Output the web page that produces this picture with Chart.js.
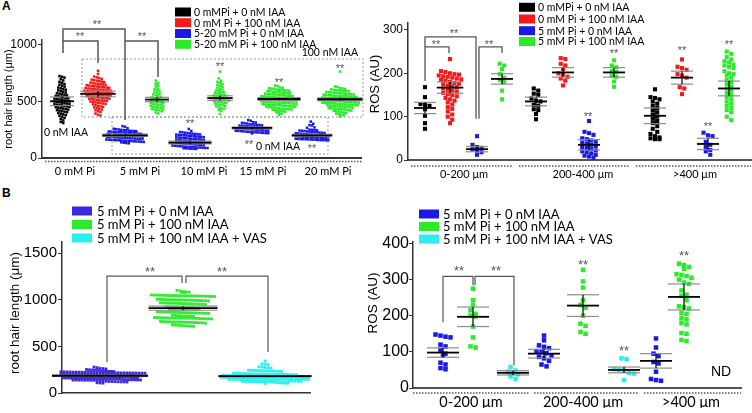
<!DOCTYPE html>
<html>
<head>
<meta charset="utf-8">
<script src="https://cdn.jsdelivr.net/npm/chart.js@4.4.1/dist/chart.umd.min.js"></script>
<style>
  body { margin: 0; background: #fff; width: 752px; height: 413px; overflow: hidden; position: relative; }
  canvas { position: absolute; left: 0; top: 0; }
  .tag { position: absolute; font: bold 12px "Liberation Sans", Arial, sans-serif; color: #000; }
</style>
</head>
<body>
<div class="tag" style="left:2px;top:-1px">A</div>
<div class="tag" style="left:2px;top:186px">B</div>
<canvas id="a1" width="752" height="413"></canvas>
<canvas id="a2" width="752" height="413"></canvas>
<canvas id="b1" width="752" height="413"></canvas>
<canvas id="b2" width="752" height="413"></canvas>
<script>
// ---------- data: panel A, root hair length ----------
const a1Labels = ['0 mM Pi', '5 mM Pi', '10 mM Pi', '15 mM Pi', '20 mM Pi'];
const a1Ticks = [0, 500, 1000];
const a1Legend = ['0 mMPi + 0 nM IAA', '0 mM Pi + 100 nM IAA', '5-20 mM Pi + 0 nM IAA', '5-20 mM Pi + 100 nM IAA'];
const a1Black0 = [722,716,709, 695,684, 671,663,652, 646,638,629, 621,614,608,602, 596,589,583,577, 571,566,561,556,552, 548,544,540,535,531,527, 523,520,516,512,508,505,501, 498,495,491,487,484,480,477, 473,470,466,462,459,455,452, 448,444,440,436,431,427, 422,418,413,408,403, 397,391,384,378, 371,362,354, 343,331,318,308];
const a1Red0 = [768, 741, 718,711,704, 697,691,686,682,677, 673,669,664,660,656,653,651, 648,645,641,638,635,632,630,628,626, 623,621,619,616,613,611,608,606,604,603,601, 598,596,594,592,590,588,586,584,582,580,578,577, 574,572,570,568,566,564,562,560,558,556,554,552, 549,547,545,543,541,538,536,534,531,529,527, 523,521,518,515,512,509,506,504,502, 498,494,490,487,484,480,477, 472,466,460,455,451, 446,440,433,427, 420,412,405, 392,381,372];
const a1Blue5 = [281,276, 262,258,254,251,248,246,244,241, 239,238,236,234,233,231,229,228,227,225,223,222,221,219, 216,214,212,211,210,208,206,205,204,202,200,199,198,196,194,193,192, 189,187,186,185,183,181,180,179,177,175,174,173,171,169,168,167, 163,162,161,159,157,156,155,153,151,150,149,147,146,145, 143,141,138,135,132,130];
const a1Green5 = [682, 662,655, 638,630, 613,606,600, 590,583,576, 566,560,553,547, 538,533,528,522,517, 511,507,503,498,494,490, 486,482,478,473,469,465, 461,457,453,449,445,441, 436,432,428,424,419, 412,402,392];
const a1Blue10 = [256, 238, 229,226,223,220,217, 214,212,210,208,206,204,202,200, 198,196,194,192,190,188,186,184,182,180, 178,176,174,172,170,168,166,164,162,160, 158,156,154,152,150,148,146,144,142,140, 138,136,134,132,130,128,126,124,122,120, 118,116,114,112,110,108,106,104,102,100, 98,97,96,94,93,92,90,89,88,86,85,84,82,81,80];
const a1Green10 = [762, 702, 681,672, 658,652,646, 633,627,621, 609,604,598,593, 584,580,575,570,566, 559,555,551,547,543,539, 534,531,528,525,522,519,516, 512,509,506,503,500,497, 492,488,484,480,476, 470,465,460,455, 446,440,434, 424,416, 388];
const a1Blue15 = [334,328, 316,313,310,307,304, 298,296,294,292,290,288,286,284,282, 279,277,275,273,271,269,267,265,263,262,261,260, 258,256,254,252,250,248,246,244,242,241,240,239, 237,235,233,231,229,227,226,225,224, 222,220,219,217];
const a1Green15 = [638,634, 621,618,615,612,609, 603,601,599,597,595,593,591,589, 584,582,580,578,576,574,572,570,568,566, 563,561,559,557,555,553,551,549,547,546,545,544, 542,540,538,536,534,532,530,529,528,527,526,525,524, 522,520,518,516,514,512,510,509,508,507,506,505,504, 502,500,498,496,494,492,490,489,488,487,486,485,484, 482,480,478,476,474,472,470,468,467,466,465,464, 462,460,458,456,454,452,450,448,446,444, 440,438,436,434,432,430,428,426, 421,418,415,412,409, 402,396,390, 378];
const a1Blue20 = [321, 302, 290,286, 270,266, 250,248,246,244,242,240,238, 234,232,230,228,226,224,222,220,218,216,214, 212,210,208,206,204,203,202,201,200,198,196,194, 192,190,188,186,184,183,182,181,180,178,176,174, 172,170,168,167,166,165,164,163,162,161, 159,158,157,156,155];
const a1Green20 = [762, 631,627, 615,612,609,606, 600,598,596,594,592,590,588, 582,580,578,576,574,572,570,568,566,564, 562,560,558,556,554,552,550,548,547,546,545,544, 542,540,538,536,534,532,530,529,528,527,526,525,524, 522,520,518,516,514,512,510,509,508,507,506,505,504, 502,500,498,496,494,492,490,489,488,487,486,485,484, 482,480,478,476,474,472,470,468,467,466,465,464, 462,460,458,456,454,452,450,448,446,444, 440,438,436,434,432,430,428,426, 421,418,415,412,409,406, 400,396,392,388, 382,378, 366];
const a1Means = [500, 565, 200, 515, 136, 528, 265, 520, 200, 518];
const a1Errs = [38, 25, 10, 20, 12, 20, 8, 12, 8, 12];

// ---------- data: panel A, ROS ----------
const a2Labels = ['0-200 \u03bcm', '200-400 \u03bcm', '>400 \u03bcm'];
const a2Ticks = [0, 100, 200, 300];
const a2Legend = ['0 mMPi + 0 nM IAA', '0 mM Pi + 100 nM IAA', '5 mM Pi + 0 nM IAA', '5 mM Pi + 100 nM IAA'];
const a2Black1 = [168,145,129,127,125,117,102,85,72];
const a2Red1 = [233,205,203,200,198,197,195,193,192,190,188,186,185,183,180,178,176,175,172,170,168,165,162,160,158,155,152,150,147,143,140,137,133,128,122,118,112,105,100,93,85];
const a2Blue1 = [55,35,30,28,25,22,18,12];
const a2Green1 = [222,218,210,198,190,185,180,160,140];
const a2Black2 = [165,160,153,150,142,137,135,127,125,117,115,106,94];
const a2Red2 = [235,233,222,218,210,200,198,192,188,183,172];
const a2Blue2 = [90,65,62,58,50,48,45,42,40,38,35,32,30,28,25,22,20,18,15,12,10,8,5];
const a2Green2 = [230,218,214,205,203,195,192,181,169];
const a2Black3 = [163,145,143,140,135,130,125,120,115,110,105,100,95,90,85,78,72,65,60,55,52,50,48,48];
const a2Red3 = [232,215,212,208,198,195,190,168,165,152];
const a2Blue3 = [63,57,55,42,35,30,23,20,12];
const a2Green3 = [250,245,238,232,228,225,220,218,215,212,205,200,198,195,190,185,180,175,170,165,160,155,150,145,140,135,130,125,120,115,110,100,92];
const a2Means = [120, 167, 25, 187, 135, 202, 35, 202, 102, 190, 37, 165];
const a2Errs = [13, 13, 6, 12, 10, 11, 12, 11, 18, 15, 13, 17];

// ---------- data: panel B, root hair length ----------
const b1Ticks = [0, 500, 1000, 1500];
const b1Legend = ['5 mM Pi + 0 nM IAA', '5 mM Pi + 100 nM IAA', '5 mM Pi + 100 nM IAA + VAS'];
const b1Blue = [278,272, 265,262,258, 252,249,247,245,243, 236,235,233,232,231,230,229,228,227,226,
  225,224,224,223,223,222,222,221,221,220,220,219,219,218,218,217,217,216,216,215,215,214,214,213,213,212,
  205,204,204,203,203,202,202,201,201,200,200,199,199,198,198,197,197,196,196,195,195,194,194,193,193,192,
  185,184,184,183,183,182,182,181,181,180,180,179,179,178,178,177,177,176,176,175,175,174,174,173,173,172,
  163,162,162,161,161,160,160,159,159,158,158,157,157,156,156,155,155,154,154,153,153,152,152,151,
  145,144,143,142,141,140,140,139,139,138,138,137,137,136,136,135,134,133,
  126,124,123,122,121,120,119,118, 110,108,106];
const b1Green = [1102,1096, 1088,1085,1083,1080,1078,
  1052,1051,1050,1049,1048,1047,1046,1045,1045,1044,1044,1043,1043,1042,1041,1040,1040,1039,1038,1037,1036,1035,
  1005,1004,1003,1002,1001,1000,1000,999,998,997,996,995,994,993,992,991,990,988,
  968,966,965,964,963,962,961,960,959,958,957,956,955,954,952,950,
  925,923,921,920,918,917,916,915,914,912,
  905,904,903,902,901,900,899,898,897,896,895,894,
  872,870,869,868,867,866,865,864,863,862,861,860,859,858,857,856,855,853,
  835,832,830,828,826,825,823,821,
  810,809,808,807,806,805,805,804,804,803,803,802,802,801,800,799,798,797,796,795,
  768,766,765,764,763,762,761,760,759,758,757,756,755,754,752,750,
  730,728,726,724,722,720,718,715];
const b1Cyan = [343, 312,308,305, 282,277,274,270,268,
  245,243,242,241,240,239,238,237,236,235,234,232,
  212,211,210,209,208,207,206,205,205,204,204,203,203,202,202,201,200,199,198,197,196,195,
  190,189,189,188,188,187,187,186,186,185,185,184,184,183,183,182,182,181,181,180,180,179,179,178,178,177,
  170,169,169,168,168,167,167,166,166,165,165,164,164,163,163,162,162,161,161,160,160,159,159,158,158,157,
  150,149,149,148,148,147,147,146,146,145,145,144,144,143,143,142,142,141,141,140,140,139,139,138,138,137,
  130,129,128,127,126,125,124,124,123,122,121,120,119,118,118,117,116,115,
  110,108,106,104,102];
const b1Means = [185, 910, 180];
const b1Errs = [8, 22, 8];

// ---------- data: panel B, ROS ----------
const b2Labels = ['0-200 \u03bcm', '200-400 \u03bcm', '>400 \u03bcm'];
const b2Ticks = [0, 100, 200, 300, 400];
const b2Blue1 = [148,145,142,140,120,115,105,95,90,70,65,55,52];
const b2Green1 = [275,243,230,215,205,200,198,170,140,115,112];
const b2Cyan1 = [58,48,45,42,38,32,25];
const b2Blue2 = [145,132,118,114,110,102,100,96,90,86,82,75,65,60];
const b2Green2 = [327,295,278,243,230,222,200,178,172,155,150];
const b2Cyan2 = [82,80,52,50,48,42,40,22];
const b2Blue3 = [137,112,95,88,72,68,45,25,22,20];
const b2Green3 = [344,340,335,330,315,313,310,305,300,292,288,270,258,255,243,226,224,220,208,205,193,190,180,176,152,150,133,130];
const b2Means = [98, 197, 42, 95, 228, 50, 75, 252];
const b2Errs = [13, 27, 6, 12, 30, 8, 20, 36];

const BLACK = '#000000', RED = '#f41a1a', BLUE = '#1a1ae6', GREEN = '#2aea2a', CYAN = '#2aeeee', VIOLET = '#3a28e0';
const SANS = "'Liberation Sans', Arial, sans-serif";
const MYR = "Lato, 'Open Sans', sans-serif";

Chart.defaults.font.family = SANS;

function line(ctx, x1, y1, x2, y2) {
  ctx.beginPath(); ctx.moveTo(x1, y1); ctx.lineTo(x2, y2); ctx.stroke();
}

// dot-plot layout: values closer than rowH pixels share a row and are spread sideways
function swarm(chart, vals, cx, rowH, dx) {
  const xs = chart.scales.x, ys = chart.scales.y;
  const rows = [];
  let cur = null, start = 0;
  vals.slice().sort((a, b) => b - a).forEach(v => {
    const py = ys.getPixelForValue(v);
    if (!cur || py - start >= rowH) { cur = []; rows.push(cur); start = py; }
    cur.push(v);
  });
  const c = xs.getPixelForValue(cx), pts = [];
  let half = 0;
  rows.forEach(row => row.forEach((v, i) => {
    const off = (i - (row.length - 1) / 2) * dx;
    half = Math.max(half, Math.abs(off));
    pts.push({ x: xs.getValueForPixel(c + off), y: v });
  }));
  return { pts, half };
}

function deco(p) {
  return {
    id: 'deco',
    afterDatasetsDraw(chart) {
      const { ctx, scales: { x, y } } = chart;
      ctx.save();
      chart.data.datasets.forEach((d, i) => {
        const cx = x.getPixelForValue(d.cx);
        const hw = Math.max(p.barMin, d.half + p.barExtra);
        const m = y.getPixelForValue(p.means[i]);
        const lo = y.getPixelForValue(p.means[i] - p.errs[i]);
        const hi = y.getPixelForValue(p.means[i] + p.errs[i]);
        ctx.strokeStyle = '#8c8c8c'; ctx.lineWidth = 1.2;
        line(ctx, cx - hw, lo, cx + hw, lo);
        line(ctx, cx - hw, hi, cx + hw, hi);
        ctx.strokeStyle = '#000'; ctx.lineWidth = 1.2;
        line(ctx, cx, lo, cx, hi);
        ctx.lineWidth = 1.8;
        line(ctx, cx - hw, m, cx + hw, m);
      });
      ctx.restore();
    },
    afterDraw(chart) {
      const { ctx, scales: { x, y } } = chart;
      ctx.save();
      // dotted lines under the x axis
      ctx.strokeStyle = '#555'; ctx.lineWidth = 1.5; ctx.setLineDash([1.5, 1.5]);
      (p.dots || []).forEach(s => line(ctx, x.getPixelForValue(s[0]), p.dotY, x.getPixelForValue(s[1]), p.dotY));
      // dashed group boxes
      ctx.strokeStyle = '#9a9a9a'; ctx.lineWidth = 1; ctx.setLineDash([2, 2]);
      (p.boxes || []).forEach(b => {
        const x1 = x.getPixelForValue(b[0]), x2 = x.getPixelForValue(b[1]);
        const y1 = y.getPixelForValue(b[2]), y2 = y.getPixelForValue(b[3]);
        ctx.strokeRect(x1, y1, x2 - x1, y2 - y1);
      });
      ctx.setLineDash([]);
      // significance brackets
      ctx.strokeStyle = '#555'; ctx.lineWidth = p.brW || 1.3;
      (p.brackets || []).forEach(path => {
        ctx.beginPath();
        path.forEach((pt, k) => {
          const px = x.getPixelForValue(pt[0]), py = y.getPixelForValue(pt[1]);
          if (k) ctx.lineTo(px, py); else ctx.moveTo(px, py);
        });
        ctx.stroke();
      });
      ctx.textBaseline = 'middle';
      ctx.fillStyle = '#555'; ctx.textAlign = 'center'; ctx.font = p.starFont;
      (p.stars || []).forEach(s => ctx.fillText('**', x.getPixelForValue(s[0]), y.getPixelForValue(s[1]) + 2));
      ctx.fillStyle = '#000';
      (p.texts || []).forEach(t => {
        ctx.font = t[4]; ctx.textAlign = t[3];
        ctx.fillText(t[2], x.getPixelForValue(t[0]), y.getPixelForValue(t[1]));
      });
      // y axis title
      ctx.save();
      ctx.translate(p.title.x, p.title.y); ctx.rotate(-Math.PI / 2);
      ctx.textAlign = 'center'; ctx.font = p.title.font;
      ctx.fillText(p.title.text, 0, 0);
      ctx.restore();
      // legend
      const L = p.legend;
      ctx.textAlign = 'left'; ctx.font = L.font;
      L.items.forEach((name, k) => {
        ctx.fillStyle = L.colors[k];
        ctx.fillRect(L.x, L.ys[k] - L.h / 2, L.w, L.h);
        ctx.fillStyle = '#000';
        ctx.fillText(name, L.tx, L.ys[k] + 0.5);
      });
      ctx.restore();
    }
  };
}

function panel(id, p) {
  const datasets = p.series.map((vals, i) => ({
    data: [], raw: vals, cx: p.pos[i], half: 0,
    backgroundColor: p.colors[i], borderWidth: 0, clip: false,
    pointStyle: 'rect', pointRadius: p.r, pointHoverRadius: p.r
  }));
  const xScale = {
    type: 'linear', min: 0, max: p.xmax,
    afterFit: s => { s.height = p.xh; },
    ticks: { display: false },
    grid: { display: true, drawOnChartArea: false, drawTicks: false },
    border: { color: p.xColor, width: p.xbw }
  };
  if (p.xlab) {
    xScale.afterBuildTicks = s => { s.ticks = p.xpos.map(v => ({ value: v })); };
    xScale.ticks = { display: true, autoSkip: false, maxRotation: 0, padding: p.xpad, color: '#000',
                     font: p.xfont, callback: (v, i) => p.xlab[i] };
  }
  const chart = new Chart(document.getElementById(id), {
    type: 'scatter',
    data: { datasets },
    options: {
      responsive: false, animation: false, events: [],
      layout: { padding: p.pad, autoPadding: false },
      plugins: { legend: { display: false }, tooltip: { enabled: false } },
      scales: {
        x: xScale,
        y: {
          min: 0, max: p.ymax,
          afterFit: s => { s.width = p.yw; },
          afterBuildTicks: s => { s.ticks = p.yticks.map(v => ({ value: v })); },
          ticks: { color: '#000', font: p.yfont, padding: p.ypad, autoSkip: false, callback: v => String(v) },
          grid: { drawOnChartArea: false, drawTicks: true, tickLength: 4, color: '#333' },
          border: { color: '#333', width: p.ybw }
        }
      }
    },
    plugins: [deco(p)]
  });
  chart.data.datasets.forEach(d => {
    const s = swarm(chart, d.raw, d.cx, p.rowH, p.dx);
    d.data = s.pts; d.half = s.half;
  });
  chart.update();
  return chart;
}

// A: root hair length
panel('a1', {
  pad: { left: 0, top: 40, right: 391, bottom: 225 }, yw: 42, xh: 30,
  xmax: 319, ymax: 1040, yticks: a1Ticks,
  series: [a1Black0, a1Red0, a1Blue5, a1Green5, a1Blue10, a1Green10, a1Blue15, a1Green15, a1Blue20, a1Green20],
  pos: [20, 56, 83, 115, 148, 178, 210, 237, 270, 298],
  colors: [BLACK, RED, BLUE, GREEN, BLUE, GREEN, BLUE, GREEN, BLUE, GREEN],
  means: a1Means, errs: a1Errs, barMin: 12, barExtra: 4,
  r: 1.8, rowH: 2.6, dx: 2.5,
  xlab: a1Labels, xpos: [33, 98, 162, 221, 286], xpad: 7, xfont: { family: MYR, size: 11 },
  xColor: '#333', xbw: 2, ybw: 1.5, ypad: 1,
  yfont: { size: 12 },
  title: { text: 'root hair length (\u03bcm)', x: 9, y: 99, font: '11px ' + SANS },
  dotY: 161.5, dots: [[3, 320]],
  boxes: [[40, 321, 872, 361], [70, 286, 361, 35]],
  brackets: [[[21, 1031], [21, 1137], [83, 1137], [83, 335]],
             [[21, 925], [21, 1031], [56, 1031], [56, 837]],
             [[83, 1031], [116, 1031], [116, 714]]],
  brW: 1.5,
  starFont: '11px ' + SANS,
  stars: [[55, 1190], [38, 1084], [100, 1084], [178, 819], [237, 678], [298, 802], [148, 317], [207, 132], [270, 97]],
  texts: [[316, 925, '100 nM IAA', 'right', '10.5px ' + MYR], [236, 97, '0 nM IAA', 'center', '10.5px ' + MYR],
          [24, 220, '0 nM IAA', 'center', '10.5px ' + MYR]],
  legend: { x: 175, w: 16, h: 9, ys: [12, 22.7, 33.5, 44.3], tx: 194, font: '10.5px ' + MYR,
            items: a1Legend, colors: [BLACK, RED, BLUE, GREEN] }
});

// A: ROS
panel('a2', {
  pad: { left: 366, top: 23, right: 1, bottom: 223 }, yw: 42, xh: 30,
  xmax: 343, ymax: 316, yticks: a2Ticks,
  series: [a2Black1, a2Red1, a2Blue1, a2Green1, a2Black2, a2Red2, a2Blue2, a2Green2, a2Black3, a2Red3, a2Blue3, a2Green3],
  pos: [17, 42, 69, 94, 128, 155, 181, 206, 247, 274, 300, 321],
  colors: [BLACK, RED, BLUE, GREEN, BLACK, RED, BLUE, GREEN, BLACK, RED, BLUE, GREEN],
  means: a2Means, errs: a2Errs, barMin: 11, barExtra: 2,
  r: 2.9, rowH: 4.2, dx: 4.5,
  xlab: a2Labels, xpos: [56, 175, 287], xpad: 8, xfont: { family: MYR, size: 11 },
  xColor: '#555', xbw: 2, ybw: 1.5, ypad: 1,
  yfont: { size: 12 },
  title: { text: 'ROS (AU)', x: 375, y: 84, font: '13px ' + SANS },
  dotY: 166, dots: [[3, 105], [111, 221], [228, 343]],
  brackets: [[[17, 261], [17, 284], [68, 284], [68, 95]],
             [[17, 182], [17, 261], [41, 261], [41, 247]],
             [[71, 95], [71, 261], [94, 261], [94, 247]]],
  starFont: '11px ' + SANS,
  stars: [[46, 296], [28, 270], [81, 270], [206, 249], [180, 104], [274, 256], [321, 270], [300, 81]],
  legend: { x: 519, w: 16, h: 9, ys: [7.3, 19, 30.7, 41.5], tx: 538, font: '10.5px ' + MYR,
            items: a2Legend, colors: [BLACK, RED, BLUE, GREEN] }
});

// B: root hair length
panel('b1', {
  pad: { left: 7, top: 242, right: 442, bottom: 20 }, yw: 55, xh: 0,
  xmax: 248, ymax: 1620, yticks: b1Ticks,
  series: [b1Blue, b1Green, b1Cyan],
  pos: [38, 121, 203],
  colors: [VIOLET, GREEN, CYAN],
  means: b1Means, errs: b1Errs, barMin: 20, barExtra: 3,
  r: 2, rowH: 2, dx: 3,
  xColor: '#333', xbw: 1.5, ybw: 1.5, ypad: 1,
  yfont: { size: 15 },
  title: { text: 'root hair length (\u03bcm)', x: 15, y: 313, font: '13.5px ' + SANS },
  brackets: [[[45, 332], [45, 1254], [120, 1254], [120, 1179]],
             [[124, 1179], [124, 1254], [206, 1254], [206, 439]]],
  brW: 1.2,
  starFont: '13px ' + SANS,
  stars: [[88, 1318], [160, 1318]],
  legend: { x: 72, w: 20, h: 9, ys: [211, 224.5, 238], tx: 97, font: '13px ' + MYR,
            items: b1Legend, colors: [VIOLET, GREEN, CYAN] }
});

// B: ROS
panel('b2', {
  pad: { left: 365, top: 242, right: 11, bottom: 5 }, yw: 48, xh: 20,
  xmax: 328, ymax: 404, yticks: b2Ticks,
  series: [b2Blue1, b2Green1, b2Cyan1, b2Blue2, b2Green2, b2Cyan2, b2Blue3, b2Green3],
  pos: [30, 60, 100, 131, 170, 211, 243, 271],
  colors: [BLUE, GREEN, CYAN, BLUE, GREEN, CYAN, BLUE, GREEN],
  means: b2Means, errs: b2Errs, barMin: 16, barExtra: 3,
  r: 3.2, rowH: 4.5, dx: 5,
  xlab: b2Labels, xpos: [58, 170, 278], xpad: 6, xfont: { family: MYR, size: 14.5 },
  xColor: '#555', xbw: 2, ybw: 1.5, ypad: 0,
  yfont: { size: 16 },
  title: { text: 'ROS (AU)', x: 373, y: 303, font: '13.5px ' + SANS },
  dotY: 393, dots: [[0, 116], [121, 226], [231, 328]],
  brackets: [[[30, 182], [30, 309], [60, 309], [60, 284]],
             [[62, 284], [62, 309], [101, 309], [101, 63]]],
  brW: 1.2,
  starFont: '13px ' + SANS,
  stars: [[46, 328], [83, 328], [170, 345], [211, 108], [271, 370]],
  texts: [[308, 44, 'ND', 'center', '14px ' + SANS]],
  legend: { x: 419, w: 20, h: 9, ys: [214, 226.5, 239], tx: 443, font: '13px ' + MYR,
            items: b1Legend, colors: [BLUE, GREEN, CYAN] }
});
</script>
</body>
</html>
